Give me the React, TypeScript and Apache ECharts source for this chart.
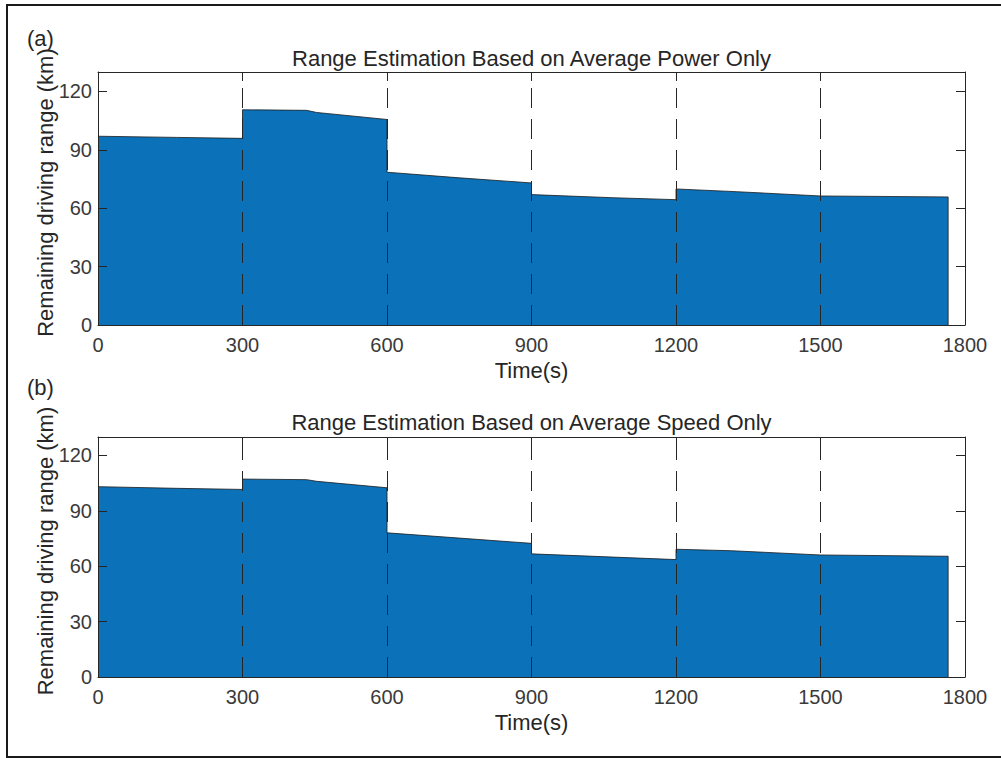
import React, { useEffect, useRef } from 'react';
import * as echarts from 'echarts';

const xTicks = [0, 300, 600, 900, 1200, 1500, 1800];
const yTicks = [0, 30, 60, 90, 120];
const yMax = 130;
const boundaries = [300, 600, 900, 1200, 1500];

const powerTime = [0, 163, 300, 300, 433, 454, 600, 600, 751, 900, 900, 1069, 1200, 1200, 1326, 1500, 1765, 1765];
const powerRange = [97.0, 96.4, 95.9, 110.6, 110.3, 109.2, 105.6, 78.5, 75.6, 73.0, 67.0, 65.4, 64.4, 69.9, 68.5, 66.3, 65.8, 0];

const speedTime = [0, 163, 300, 300, 433, 454, 600, 600, 900, 900, 1200, 1200, 1315, 1500, 1765, 1765];
const speedRange = [103.1, 102.2, 101.6, 107.2, 106.9, 106.0, 102.5, 78.1, 72.4, 66.7, 63.6, 69.2, 68.4, 66.1, 65.4, 0];

const titles = ['Range Estimation Based on Average Power Only', 'Range Estimation Based on Average Speed Only'];
const panelLabels = ['(a)', '(b)'];
const xName = 'Time(s)';
const yName = 'Remaining driving range (km)';

const FONT = "'Liberation Sans', Arial, Helvetica, sans-serif";
const AX = '#262626';
const TICK = '#3a3a3a';
const FILL = '#0b72ba';

const grids = [
  { left: 98, top: 72, width: 867, height: 253 },
  { left: 98, top: 437, width: 867, height: 240 },
];

export default function App() {
  const ref = useRef<HTMLDivElement>(null);
  useEffect(() => {
    if (!ref.current) return;
    const chart = echarts.init(ref.current, undefined, { renderer: 'svg' });
    const xInt = xTicks[1] - xTicks[0];
    const yInt = yTicks[1] - yTicks[0];
    const xAxes: any[] = [];
    const yAxes: any[] = [];
    grids.forEach((g, i) => {
      const common = {
        gridIndex: i,
        type: 'value',
        min: xTicks[0],
        max: xTicks[xTicks.length - 1],
        interval: xInt,
        z: 5,
        splitLine: { show: false },
        axisLine: { show: true, onZero: false, lineStyle: { color: AX, width: 1 } },
        axisTick: { show: true, inside: true, length: 9, lineStyle: { color: AX } },
      };
      xAxes.push({
        ...common,
        position: 'bottom',
        name: xName,
        nameLocation: 'middle',
        nameGap: 34,
        nameTextStyle: { fontFamily: FONT, fontSize: 22, color: AX },
        axisLabel: {
          show: true,
          margin: 10,
          fontFamily: FONT,
          fontSize: 20,
          color: TICK,
          formatter: (v: number) => String(v),
        },
      });
      xAxes.push({
        ...common,
        position: 'top',
        axisLabel: { show: false },
      });
      const ycommon = {
        gridIndex: i,
        type: 'value',
        min: yTicks[0],
        max: yMax,
        interval: yInt,
        z: 5,
        splitLine: { show: false },
        axisLine: { show: true, onZero: false, lineStyle: { color: AX, width: 1 } },
        axisTick: { show: true, inside: true, length: 9, lineStyle: { color: AX } },
      };
      yAxes.push({
        ...ycommon,
        position: 'left',
        axisLabel: {
          show: true,
          margin: 6,
          fontFamily: FONT,
          fontSize: 20,
          color: TICK,
          formatter: (v: number) => (yTicks.includes(v) ? String(v) : ''),
        },
      });
      yAxes.push({
        ...ycommon,
        position: 'right',
        axisLabel: { show: false },
      });
    });

    const mkSeries = (times: number[], vals: number[], i: number) => ({
      type: 'line',
      xAxisIndex: i * 2,
      yAxisIndex: i * 2,
      data: times.map((t, k) => [t, vals[k]]),
      symbol: 'none',
      lineStyle: { color: '#1a1a1a', width: 0.8 },
      areaStyle: { color: FILL, opacity: 1 },
      z: 2,
      markLine: {
        silent: true,
        symbol: ['none', 'none'],
        label: { show: false },
        lineStyle: { type: [20, 11], color: AX, width: 1 },
        data: boundaries.map((b) => [{ coord: [b, 0] }, { coord: [b, yMax] }]),
      },
    });

    const yLabelCenters = [192.5, 551];

    chart.setOption({
      animation: false,
      backgroundColor: '#ffffff',
      grid: grids.map((g) => ({ ...g, containLabel: false })),
      xAxis: xAxes,
      yAxis: yAxes,
      series: [mkSeries(powerTime, powerRange, 0), mkSeries(speedTime, speedRange, 1)],
      graphic: [
        {
          type: 'rect',
          shape: { x: 7, y: 5, width: 1010, height: 752 },
          style: { fill: 'none', stroke: '#1a1a1a', lineWidth: 2 },
          z: 10,
        },
        ...titles.map((t, i) => ({
          type: 'text',
          x: 531.5,
          y: i === 0 ? 58 : 422,
          style: { text: t, font: `22px ${FONT}`, fill: AX, textAlign: 'center', textVerticalAlign: 'middle' },
        })),
        ...panelLabels.map((t, i) => ({
          type: 'text',
          x: 27,
          y: i === 0 ? 38 : 387,
          style: { text: t, font: `22px ${FONT}`, fill: AX, textAlign: 'left', textVerticalAlign: 'middle' },
        })),
        ...yLabelCenters.map((cy) => ({
          type: 'text',
          x: 45,
          y: cy,
          rotation: Math.PI / 2,
          style: { text: yName, font: `22px ${FONT}`, fill: AX, textAlign: 'center', textVerticalAlign: 'middle' },
        })),
      ],
    });
    return () => chart.dispose();
  }, []);
  return <div ref={ref} style={{ position: 'fixed', left: 0, top: 0, width: 1001, height: 758 }} />;
}
